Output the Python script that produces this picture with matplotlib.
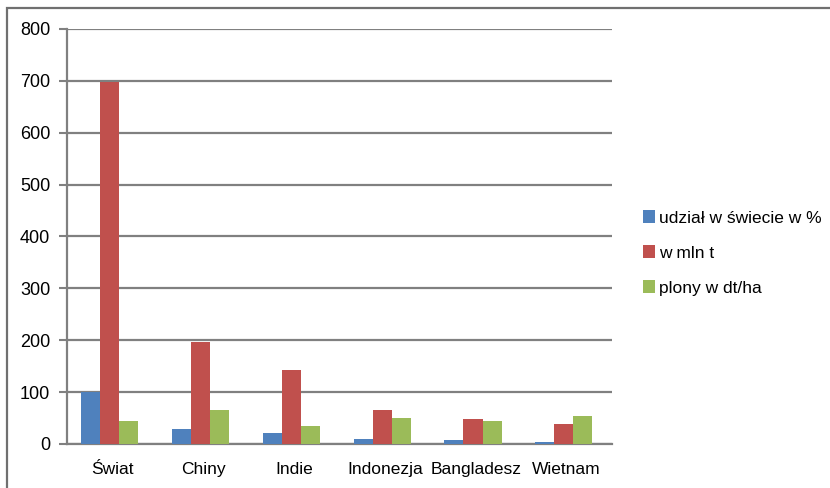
import matplotlib.pyplot as plt
import numpy as np
from matplotlib.patches import Rectangle

plt.rcParams['font.family'] = ['Liberation Sans', 'DejaVu Sans']

kraje = ["Świat", "Chiny", "Indie", "Indonezja", "Bangladesz", "Wietnam"]
udzial = [100, 28, 21, 9, 7, 4]
mln_t = [697, 197, 143, 66, 48, 39]
plony = [44, 66, 35, 50, 44, 54]

serie = [
    ("udział w świecie w %", udzial, "#4F81BD"),
    ("w mln t", mln_t, "#C0504D"),
    ("plony w dt/ha", plony, "#9BBB59"),
]

fig = plt.figure(figsize=(8.3, 4.88), dpi=100)
ax = fig.add_axes([67 / 830, 1 - 444 / 488, 545 / 830, 415 / 488])

x = np.arange(len(kraje))
w = 0.21
for i, (lab, vals, col) in enumerate(serie):
    ax.bar(x + (i - 1) * w - 0.03, vals, w, color=col, label=lab, zorder=3)

ax.set_xlim(-0.5, len(kraje) - 0.5)
ax.set_ylim(0, 800)
ax.set_yticks(range(0, 801, 100))
ax.set_xticks(x)
ax.set_xticklabels(kraje)
ax.yaxis.grid(True, color="#808080", linewidth=1.6, zorder=0)
ax.tick_params(axis="y", length=6, width=1.5, color="#808080", labelsize=13, pad=6)
ax.tick_params(axis="x", length=0, labelsize=12.5, pad=13)
for s in ["top", "right"]:
    ax.spines[s].set_visible(False)
for s in ["left", "bottom"]:
    ax.spines[s].set_color("#808080")
    ax.spines[s].set_linewidth(1.6)

fig.legend(loc="upper left", bbox_to_anchor=(636 / 830, 1 - 203 / 488),
           frameon=False, fontsize=12.5, handlelength=0.7, handleheight=0.8,
           handletextpad=0.2, labelspacing=1.12, borderaxespad=0)

# ramka obszaru wykresu
fig.patches.append(Rectangle((7 / 830, -0.1), 1.2, 1 - 8 / 488 + 0.1,
                             transform=fig.transFigure, fill=False,
                             edgecolor="#707070", linewidth=1.6))

fig.savefig("out.png", dpi=100)
